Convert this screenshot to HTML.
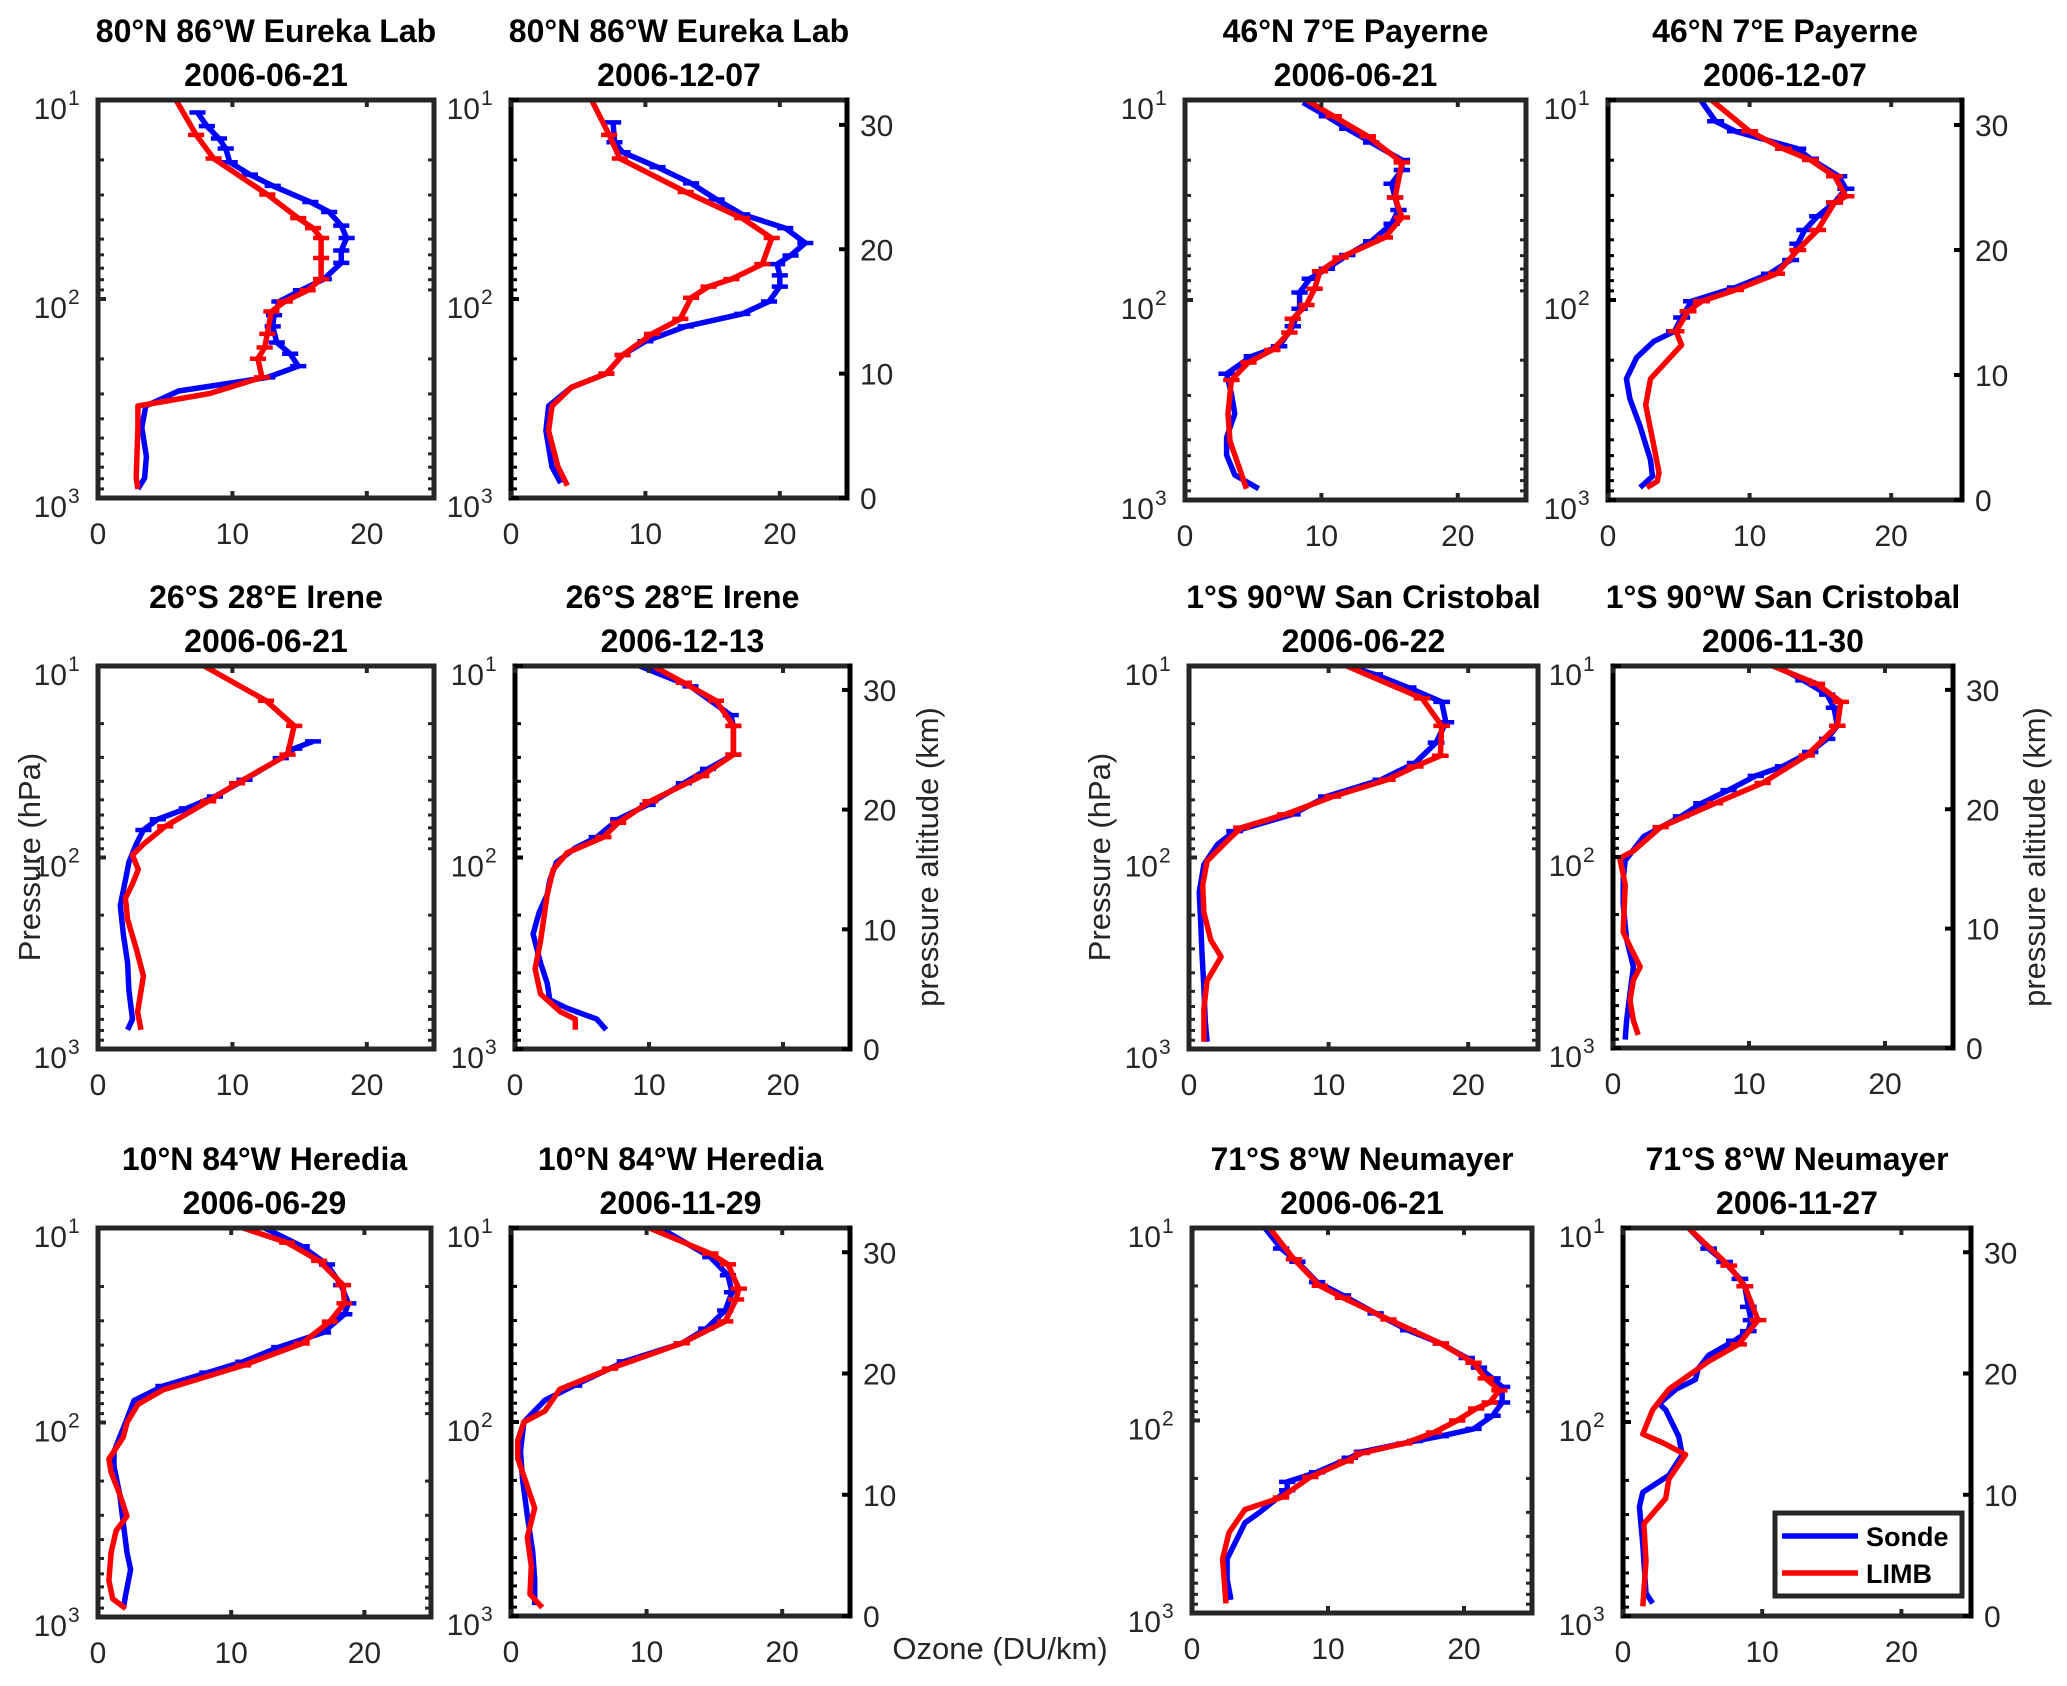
<!DOCTYPE html>
<html><head><meta charset="utf-8">
<style>
html,body{margin:0;padding:0;background:#fff;}
svg{display:block;font-family:"Liberation Sans",Arial,sans-serif;}
</style></head>
<body>
<svg id="fig" width="2067" height="1686" viewBox="0 0 2067 1686" xmlns="http://www.w3.org/2000/svg">
<text x="1000" y="1659" font-size="31" fill="#262626" text-anchor="middle">Ozone (DU/km)</text>
<text transform="translate(40,857) rotate(-90)" font-size="31" fill="#262626" text-anchor="middle">Pressure (hPa)</text>
<text transform="translate(1110,857) rotate(-90)" font-size="31" fill="#262626" text-anchor="middle">Pressure (hPa)</text>
<text transform="translate(938,857) rotate(-90)" font-size="31" fill="#262626" text-anchor="middle">pressure altitude (km)</text>
<text transform="translate(2045,857) rotate(-90)" font-size="31" fill="#262626" text-anchor="middle">pressure altitude (km)</text>
</svg>
<script>
// ---- data: altitude (km, pressure altitude) and ozone (DU/km) ----
const titles1 = ["80°N 86°W Eureka Lab","80°N 86°W Eureka Lab","46°N 7°E Payerne","46°N 7°E Payerne","26°S 28°E Irene","26°S 28°E Irene","1°S 90°W San Cristobal","1°S 90°W San Cristobal","10°N 84°W Heredia","10°N 84°W Heredia","71°S 8°W Neumayer","71°S 8°W Neumayer"];
const titles2 = ["2006-06-21","2006-12-07","2006-06-21","2006-12-07","2006-06-21","2006-12-13","2006-06-22","2006-11-30","2006-06-29","2006-11-29","2006-06-21","2006-11-27"];
const xTicks = [0,10,20];
const altTicks = [0,10,20,30];
const pTickExp = [1,2,3];

const sondeZ0=[0.73,1.6,3.34,5.67,7.4,8.6,9.7,10.6,11.6,12.5,13.8,14.7,15.8,16.7,17.6,18.9,19.9,20.9,21.9,23.0,23.8,25.1,26.0,27.0,28.1,28.9,29.9,31.0];
const sondeV0=[2.97,3.47,3.6,3.26,3.56,6.0,12.6,14.9,14.3,13.3,13.0,13.1,13.5,15.1,16.8,18.1,18.1,18.5,18.1,17.2,15.8,13.0,11.3,9.8,9.5,9.0,8.1,7.4];
const limbZ0=[0.73,1.6,5.67,7.4,8.4,9.7,11.2,12.1,13.2,15.0,15.8,16.7,17.6,19.3,20.9,21.7,22.5,24.4,27.3,29.2,32.0];
const limbV0=[2.97,2.84,2.97,2.97,8.3,12.2,11.9,12.4,12.6,12.9,13.9,15.6,16.6,16.6,16.6,16.0,14.9,12.6,8.6,7.3,5.8];

const sondeZ1=[1.2,2.5,5.4,7.4,8.9,10.0,11.5,12.6,13.8,14.8,15.8,17.0,17.9,18.8,19.5,20.5,21.7,22.8,24.0,25.3,26.6,27.8,28.6,30.2];
const sondeV1=[3.7,3.05,2.6,2.8,4.5,7.1,8.3,10.0,13.0,17.2,19.2,20.0,20.0,19.8,20.8,21.9,20.4,17.2,15.3,13.4,10.9,8.3,7.7,7.6];
const limbZ1=[1.0,2.5,5.4,7.4,8.9,10.0,11.5,13.2,14.4,16.1,17.0,17.6,18.8,20.9,22.5,24.6,27.3,29.2,32.0];
const limbV1=[4.2,3.5,2.8,3.05,4.5,7.1,8.3,10.5,12.6,13.4,14.7,16.4,18.7,19.4,17.2,13.0,8.1,7.3,6.0];

const sondeZ2=[0.9,2.0,3.6,5.0,6.9,8.5,10.1,11.5,12.3,13.9,15.3,16.6,17.7,18.5,19.6,20.7,22.1,23.2,24.2,25.3,26.4,27.2,28.6,29.7,30.7,31.8];
const sondeV2=[5.4,3.65,3.05,3.05,3.65,3.4,3.05,4.9,6.9,7.9,8.4,8.4,9.15,10.4,11.9,13.65,15.15,15.65,15.4,15.15,15.9,15.9,13.65,11.9,10.4,8.65];
const limbZ2=[0.9,2.5,4.7,6.9,9.6,11.0,12.0,13.4,14.5,15.6,16.9,18.3,19.4,21.0,22.6,24.2,27.0,29.1,30.7,32.0];
const limbV2=[4.5,4.0,3.3,3.15,3.4,4.65,6.4,7.65,7.9,8.9,9.5,9.9,11.4,14.65,15.9,15.4,15.9,13.4,10.9,8.9];

const sondeZ3=[1.0,1.9,3.2,5.9,8.1,9.7,11.4,12.7,13.5,14.6,15.9,17.0,18.1,19.2,20.5,21.6,22.7,23.8,24.9,25.9,27.3,28.1,29.5,30.3,31.9];
const sondeV3=[2.27,3.14,3.0,2.27,1.55,1.3,2.03,3.24,4.7,5.2,5.9,9.0,11.4,12.9,13.4,13.9,14.8,16.0,16.8,16.3,14.3,13.4,9.0,7.6,6.6];
const limbZ3=[1.0,1.5,2.2,4.3,7.6,9.7,12.4,13.5,15.1,15.9,16.8,18.1,20.0,21.6,23.8,24.3,25.9,27.2,28.1,29.5,32.0];
const limbV3=[2.75,3.48,3.6,3.24,2.66,3.0,5.2,4.8,5.65,6.6,9.0,11.9,13.4,14.8,16.0,16.8,16.0,14.3,12.4,10.0,7.3];

const sondeZ4=[1.6,2.5,4.9,7.2,9.6,12.0,14.1,15.6,17.1,18.3,19.2,20.1,21.1,22.5,24.3,25.1,25.7];
const sondeV4=[2.2,2.57,2.3,2.2,1.88,1.66,2.04,2.3,2.84,3.38,4.45,6.6,8.7,10.9,13.6,14.6,16.0];
const limbZ4=[1.6,3.1,6.1,8.4,10.8,12.6,13.8,15.0,16.2,17.1,18.6,20.7,22.2,24.6,27.0,29.1,32.0];
const limbV4=[3.2,2.95,3.38,2.84,2.2,2.04,2.57,3.0,2.57,3.38,5.0,8.2,10.35,14.1,14.6,12.5,7.9];

const sondeZ5=[1.6,2.5,3.4,4.1,5.5,7.2,9.6,11.4,12.9,14.1,15.6,16.8,17.7,19.2,20.4,22.2,23.4,24.6,27.0,27.9,30.3,31.5,32.0];
const sondeV5=[6.8,6.1,3.9,2.6,2.4,1.9,1.35,1.8,2.4,2.6,3.1,4.5,6.1,7.7,9.9,12.6,14.4,16.3,16.3,16.1,13.1,10.4,9.3];
const limbZ5=[1.6,2.5,3.1,4.6,6.7,9.0,12.9,15.0,16.4,17.7,18.9,20.7,22.8,24.6,27.0,29.1,30.6,32.0];
const limbV5=[4.5,4.5,3.4,1.9,1.5,1.9,2.4,2.85,3.9,6.6,7.7,10.1,13.9,16.3,16.3,15.0,12.6,10.3];

const sondeZ6=[0.6,2.3,5.1,8.0,10.8,13.1,15.4,17.1,18.2,19.6,21.1,22.5,23.9,25.6,27.3,29.0,30.2,31.3,32.0];
const sondeV6=[1.3,1.17,1.07,0.93,0.83,0.73,1.07,2.05,3.27,7.4,9.85,13.75,16.2,17.7,18.4,18.1,15.7,13.3,11.3];
const limbZ6=[0.6,3.4,5.7,7.7,9.1,11.4,13.7,15.7,17.7,18.5,19.6,21.1,22.5,23.6,24.5,27.0,29.3,32.0];
const limbV6=[1.07,1.07,1.3,2.3,1.56,1.07,0.98,1.3,3.0,3.76,6.9,10.3,14.2,16.2,18.0,18.1,16.7,11.3];

const sondeZ7=[0.7,2.3,4.6,6.8,9.1,12.0,14.2,15.7,17.7,19.4,20.5,21.6,22.8,23.6,24.8,25.9,27.0,28.5,29.6,30.8,32.0];
const sondeV7=[0.9,1.0,1.25,1.5,1.0,0.75,0.75,0.9,2.25,5.0,6.5,8.5,10.5,12.5,14.5,15.75,16.5,16.25,15.75,14.0,12.0];
const limbZ7=[1.1,2.3,4.0,5.7,6.8,8.5,9.7,13.7,15.9,16.5,18.5,20.5,22.2,24.5,27.0,29.0,30.5,32.0];
const limbV7=[1.85,1.5,1.25,1.5,2.0,1.25,0.75,0.9,0.5,1.5,3.5,7.5,11.0,14.25,16.5,16.75,15.0,11.75];

const sondeZ8=[0.7,1.8,3.9,5.3,7.7,10.1,12.4,13.6,14.8,16.0,17.8,19.0,20.1,21.0,22.2,23.4,24.9,25.8,27.3,29.0,30.5,32.0];
const sondeV8=[1.9,2.07,2.45,2.18,1.9,1.63,1.2,1.2,1.63,2.07,2.7,4.9,8.2,10.9,13.6,16.9,18.5,18.8,18.25,17.2,15.3,12.5];
const limbZ8=[0.7,1.5,3.0,5.3,7.1,8.3,10.1,11.9,13.0,14.8,16.0,17.5,18.7,20.7,22.5,24.3,25.8,27.3,29.3,30.8,32.0];
const limbV8=[2.07,1.1,0.82,0.98,1.36,2.18,1.63,0.98,0.82,1.9,2.18,3.0,4.9,10.9,15.3,17.4,18.5,18.4,16.6,14.2,10.9];

const sondeZ9=[0.9,3.0,5.3,8.3,11.3,13.6,16.0,17.8,19.0,21.0,22.5,23.7,25.2,26.7,28.1,29.6,32.0];
const sondeV9=[1.75,1.75,1.6,1.2,0.85,0.7,0.95,2.5,4.65,8.4,12.6,14.4,15.8,16.3,16.0,14.7,11.0];
const limbZ9=[0.7,1.8,4.1,6.5,8.9,10.7,13.0,14.5,16.0,16.9,18.7,20.4,22.5,24.3,26.1,27.0,29.0,29.9,32.0];
const limbV9=[2.3,1.4,1.5,1.2,1.75,1.2,0.5,0.5,0.95,2.5,3.6,7.3,12.6,15.8,16.6,16.8,16.0,14.7,10.2];

const sondeZ10=[1.1,2.8,4.5,5.9,7.5,8.3,10.2,10.9,11.7,12.9,13.4,14.3,14.7,15.3,16.4,17.5,18.8,19.5,20.4,21.2,22.4,23.5,24.9,26.4,27.5,29.2,30.3,32.0];
const sondeV10=[2.87,2.58,2.58,3.2,3.9,4.9,7.0,7.0,9.2,11.6,12.5,16.4,18.3,20.7,22.1,22.8,22.8,22.1,21.1,20.2,18.3,15.9,13.5,11.1,9.2,7.75,6.55,5.36];
const limbZ10=[0.8,4.5,6.7,8.6,9.6,11.3,12.6,13.3,14.1,15.0,16.0,17.0,17.5,18.5,19.5,20.8,22.4,24.4,26.2,27.2,29.4,32.0];
const limbV10=[2.5,2.25,2.73,3.9,6.55,8.7,11.3,12.5,15.6,17.8,19.5,20.9,21.9,22.6,21.6,20.7,18.3,14.45,11.1,9.4,7.5,5.7];

const sondeZ11=[1.05,1.9,5.9,9.0,10.2,11.6,13.3,14.8,17.0,17.5,18.7,19.5,20.4,21.5,22.7,23.5,24.4,25.5,27.2,27.8,29.2,30.3,32.0];
const sondeV11=[2.13,1.65,1.42,1.18,1.42,3.3,4.25,4.0,3.07,2.6,3.8,5.2,5.4,6.15,8.0,9.0,9.2,9.0,8.75,8.4,7.3,6.15,4.7];
const limbZ11=[0.8,4.5,7.6,9.7,11.3,13.3,14.3,15.0,17.0,18.7,21.0,22.4,24.4,27.2,28.9,32.0];
const limbV11=[1.42,1.65,1.5,3.07,3.3,4.5,2.84,1.42,2.13,3.3,6.15,8.3,9.7,8.75,7.6,4.7];

const sondeZ=[sondeZ0,sondeZ1,sondeZ2,sondeZ3,sondeZ4,sondeZ5,sondeZ6,sondeZ7,sondeZ8,sondeZ9,sondeZ10,sondeZ11];
const sondeV=[sondeV0,sondeV1,sondeV2,sondeV3,sondeV4,sondeV5,sondeV6,sondeV7,sondeV8,sondeV9,sondeV10,sondeV11];
const limbZ=[limbZ0,limbZ1,limbZ2,limbZ3,limbZ4,limbZ5,limbZ6,limbZ7,limbZ8,limbZ9,limbZ10,limbZ11];
const limbV=[limbV0,limbV1,limbV2,limbV3,limbV4,limbV5,limbV6,limbV7,limbV8,limbV9,limbV10,limbV11];
const errMinZ=[9,9,9,13,18,17,18,18,19,19,9,22];

// ---- layout ----
const boxes=[
 [98,434,100,498],[511,847,100,498],[1185,1526,100,500],[1608,1962,100,500],
 [98,434,666,1049],[515,850,666,1049],[1189,1538,666,1049],[1613,1953,666,1048],
 [98,431,1228,1617],[511,850,1228,1616],[1192,1532,1228,1613],[1623,1971,1228,1616]];

const NS="http://www.w3.org/2000/svg";
const svg=document.getElementById('fig');
function mk(tag,attrs,parent){const e=document.createElementNS(NS,tag);for(const k in attrs)e.setAttribute(k,attrs[k]);(parent||svg).appendChild(e);return e;}

boxes.forEach((b,i)=>{
  const [x0,x1,y0,y1]=b;
  const right = (i%2===1);
  const g=mk('g',{});
  
  
  const X=v=>x0+(x1-x0)*v/25;
  const Y=z=>y1-(y1-y0)*z/32;
  const cx=(x0+x1)/2;
  const t1=mk('text',{x:cx,y:y0-58,'font-size':32,'font-weight':'bold','text-anchor':'middle',fill:'#000'},g);
  t1.textContent=titles1[i];
  
  
  const t2=mk('text',{x:cx,y:y0-14,'font-size':32,'font-weight':'bold','text-anchor':'middle',fill:'#000'},g);
  t2.textContent=titles2[i];
  
  
  function series(Z,V,color,name){
    const pts=Z.map((z,k)=>X(V[k]).toFixed(1)+','+Y(z).toFixed(1)).join(' ');
    const pl=mk('polyline',{points:pts,fill:'none',stroke:color,'stroke-width':5.5,'stroke-linejoin':'round'},g);
    
    
    Z.forEach((z,k)=>{
      if(z>=errMinZ[i]&&z<31.5){
        const eb=mk('line',{x1:X(V[k]-0.6),x2:X(V[k]+0.6),y1:Y(z),y2:Y(z),stroke:color,'stroke-width':4.5},g);
        
        
      }
    });
  }
  series(sondeZ[i],sondeV[i],'#0000ff','sonde');
  series(limbZ[i],limbV[i],'#ff0000','limb');
  const frameC='#262626';
  mk('line',{x1:x0,x2:x1,y1:y0,y2:y0,stroke:frameC,'stroke-width':5},g);
  mk('line',{x1:x0,x2:x1,y1:y1,y2:y1,stroke:frameC,'stroke-width':5},g);
  mk('line',{x1:x0,x2:x0,y1:y0-2.5,y2:y1+2.5,stroke:right?'#000':frameC,'stroke-width':5},g);
  mk('line',{x1:x1,x2:x1,y1:y0-2.5,y2:y1+2.5,stroke:right?'#000':frameC,'stroke-width':5},g);
  xTicks.forEach(v=>{
    mk('line',{x1:X(v),x2:X(v),y1:y1,y2:y1-7,stroke:frameC,'stroke-width':4},g);
    mk('line',{x1:X(v),x2:X(v),y1:y0,y2:y0+7,stroke:frameC,'stroke-width':4},g);
    const tl=mk('text',{x:X(v),y:y1+46,'font-size':30,'text-anchor':'middle',fill:'#262626'},g);
    tl.textContent=String(v);
    
    
  });
  [10,100].forEach(d=>{for(let k=2;k<=9;k++){
    const z=16*Math.log10(1000/(d*k));
    mk('line',{x1:x0,x2:x0+6,y1:Y(z),y2:Y(z),stroke:right?'#000':frameC,'stroke-width':3},g);
    if(!right) mk('line',{x1:x1,x2:x1-6,y1:Y(z),y2:Y(z),stroke:frameC,'stroke-width':3},g);
  }});
  pTickExp.forEach(e=>{
    const z=16*(3-e);
    mk('line',{x1:x0,x2:x0+8,y1:Y(z),y2:Y(z),stroke:right?'#000':frameC,'stroke-width':4},g);
    const tl=mk('text',{x:x0-31,y:Y(z)+19,'font-size':30,'text-anchor':'end',fill:'#262626'},g);
    tl.textContent='10';
    
    
    const sp=mk('text',{x:x0-30,y:Y(z)+5,'font-size':21,'text-anchor':'start',fill:'#262626'},g);
    sp.textContent=String(e);
  });
  if(right){
    altTicks.forEach(a=>{
      mk('line',{x1:x1,x2:x1-8,y1:Y(a),y2:Y(a),stroke:'#000','stroke-width':4},g);
      const tl=mk('text',{x:x1+13,y:Y(a)+11,'font-size':30,'text-anchor':'start',fill:'#262626'},g);
      tl.textContent=String(a);
      
      
    });
  }
});

const lg=mk('g',{});


mk('rect',{x:1775,y:1513,width:187,height:83,fill:'#fff',stroke:'#262626','stroke-width':5},lg);
mk('line',{x1:1782,x2:1858,y1:1536,y2:1536,stroke:'#0000ff','stroke-width':5.5},lg);
const lt1=mk('text',{x:1866,y:1546,'font-size':27,'font-weight':'bold',fill:'#000'},lg);
lt1.textContent='Sonde';


mk('line',{x1:1782,x2:1858,y1:1573,y2:1573,stroke:'#ff0000','stroke-width':5.5},lg);
const lt2=mk('text',{x:1866,y:1583,'font-size':27,'font-weight':'bold',fill:'#000'},lg);
lt2.textContent='LIMB';


</script>
</body></html>
